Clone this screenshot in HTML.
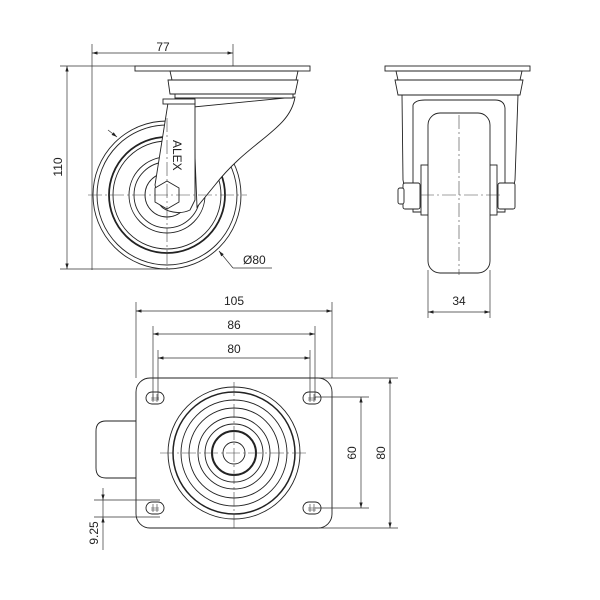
<!DOCTYPE html>
<html><head><style>
html,body{margin:0;padding:0;background:#fff;}
svg{display:block}
text{font-family:"Liberation Sans",sans-serif;font-size:12px;fill:#222}
</style></head><body>
<svg width="600" height="600" viewBox="0 0 600 600" xmlns="http://www.w3.org/2000/svg">
<defs>
<marker id="a" viewBox="0 0 10 6" refX="10" refY="3" markerWidth="8" markerHeight="5" orient="auto-start-reverse"><path d="M0,0L10,3L0,6z" fill="#222"/></marker>
</defs>
<g fill="none" stroke="#333" stroke-width="0.7">
<line x1="92" y1="44" x2="92" y2="270"/>
<line x1="233" y1="44" x2="233" y2="78"/>
<line x1="92" y1="53" x2="233" y2="53" marker-start="url(#a)" marker-end="url(#a)"/>
<line x1="60" y1="66" x2="135" y2="66"/>
<line x1="60" y1="269" x2="170" y2="269"/>
<line x1="67" y1="66" x2="67" y2="269" marker-start="url(#a)" marker-end="url(#a)"/>
<polyline points="233,268 272,268"/>
<line x1="233" y1="268" x2="219" y2="251" marker-end="url(#a)"/>
<line x1="108" y1="130" x2="117" y2="137" marker-end="url(#a)"/>
</g>
<!-- VIEW 1 body -->
<g fill="#fff" stroke="#222" stroke-width="0.9">
<circle cx="167" cy="195" r="74"/>
<circle cx="167" cy="195" r="70"/>
<circle cx="167" cy="195" r="58" stroke-width="1.8"/>
<circle cx="167" cy="195" r="54"/>
<circle cx="167" cy="195" r="38"/>
<circle cx="167" cy="195" r="33"/>
<circle cx="167" cy="195" r="22"/>
<path d="M295,97 C 290,130 250,140 215,185 L197,207 L193,107 Z"/>
<path d="M168,103 L195,103 L195,200 L190,210 C180,215 165,212 160,205 L155,185 Z"/>
<polygon points="167,181 179,188 179,202 167,209 155,202 155,188"/>
<rect x="135" y="66" width="175" height="5"/>
<polygon points="170,71 298,71 296,80 172,80"/>
<polygon points="168,80 298,80 295,94 170,94"/>
<polygon points="175,94 293,94 293,98 175,98"/>
<rect x="163" y="99" width="32" height="5"/>
</g>
<text x="163" y="51" text-anchor="middle">77</text>
<text transform="translate(62,167) rotate(-90)" text-anchor="middle">110</text>
<text x="243" y="264">Ø80</text>
<text transform="translate(173,140) rotate(90)" font-size="11">ALEX</text>
<!-- VIEW 2 -->
<g fill="#fff" stroke="#222" stroke-width="0.9">
<rect x="385" y="66" width="145" height="5"/>
<polygon points="396,71 522,71 520,80 398,80"/>
<polygon points="395,80 523,80 520,95 398,95"/>
<path d="M402,95 L518,95 L515,180 L510,205 L408,205 L403,180 Z"/>
<path d="M413,105 Q415,100 425,100 L495,100 Q504,100 505,108 L505,212 L413,212 Z"/>
<rect x="421" y="165" width="76" height="50"/>
<rect x="428" y="113" width="62" height="160" rx="12"/>
<rect x="403" y="183" width="17" height="26" rx="2"/>
<rect x="398" y="188" width="6" height="16" rx="2"/>
<rect x="498" y="183" width="17" height="26" rx="2"/>
</g>
<g fill="none" stroke="#333" stroke-width="0.7">
<line x1="428" y1="270" x2="428" y2="318"/>
<line x1="490" y1="270" x2="490" y2="318"/>
<line x1="428" y1="312" x2="490" y2="312" marker-start="url(#a)" marker-end="url(#a)"/>
</g>
<text x="459" y="305" text-anchor="middle">34</text>
<!-- VIEW 3 -->
<g fill="#fff" stroke="#222" stroke-width="0.9">
<path d="M136,421 L106,421 Q96,421 96,431 L96,468 Q96,478 106,478 L136,478"/>
<rect x="136" y="378" width="196" height="150" rx="14"/>
<rect x="146" y="392" width="18" height="12" rx="6"/>
<rect x="303" y="392" width="18" height="12" rx="6"/>
<rect x="146" y="502" width="18" height="12" rx="6"/>
<rect x="303" y="502" width="18" height="12" rx="6"/>
<circle cx="234" cy="453" r="66"/>
<circle cx="234" cy="453" r="61" stroke-width="1.5"/>
<circle cx="234" cy="453" r="53"/>
<circle cx="234" cy="453" r="45"/>
<circle cx="234" cy="453" r="36"/>
<circle cx="234" cy="453" r="29"/>
<circle cx="234" cy="453" r="22" stroke-width="2"/>
<circle cx="234" cy="453" r="11"/>
</g>
<g fill="none" stroke="#333" stroke-width="0.6">
<path d="M151,398h8M151,400h8M153,394v8M157,394v8"/>
<path d="M308,398h8M308,400h8M310,394v8M314,394v8"/>
<path d="M151,508h8M151,510h8M153,504v8M157,504v8"/>
<path d="M308,508h8M308,510h8M310,504v8M314,504v8"/>
</g>
<g fill="none" stroke="#333" stroke-width="0.7">
<line x1="136" y1="302" x2="136" y2="378"/>
<line x1="332" y1="302" x2="332" y2="378"/>
<line x1="136" y1="311" x2="332" y2="311" marker-start="url(#a)" marker-end="url(#a)"/>
<line x1="153" y1="326" x2="153" y2="400"/>
<line x1="315" y1="326" x2="315" y2="400"/>
<line x1="153" y1="334" x2="315" y2="334" marker-start="url(#a)" marker-end="url(#a)"/>
<line x1="158" y1="350" x2="158" y2="400"/>
<line x1="310" y1="350" x2="310" y2="400"/>
<line x1="158" y1="358" x2="310" y2="358" marker-start="url(#a)" marker-end="url(#a)"/>
<line x1="318" y1="378" x2="398" y2="378"/>
<line x1="318" y1="528" x2="398" y2="528"/>
<line x1="390" y1="378" x2="390" y2="528" marker-start="url(#a)" marker-end="url(#a)"/>
<line x1="315" y1="397" x2="369" y2="397"/>
<line x1="315" y1="508" x2="369" y2="508"/>
<line x1="361" y1="397" x2="361" y2="508" marker-start="url(#a)" marker-end="url(#a)"/>
<line x1="94" y1="500" x2="160" y2="500"/>
<line x1="94" y1="517" x2="160" y2="517"/>
<line x1="103" y1="488" x2="103" y2="500" marker-end="url(#a)"/>
<line x1="103" y1="550" x2="103" y2="517" marker-end="url(#a)"/>
<line x1="103" y1="500" x2="103" y2="517"/>
</g>
<!-- centerlines on top -->
<g fill="none" stroke="#444" stroke-dasharray="14,3,2,3" stroke-width="0.6">
<line x1="88" y1="195" x2="247" y2="195"/>
<line x1="167" y1="118" x2="167" y2="272"/>
<line x1="459" y1="115" x2="459" y2="275"/>
<line x1="420" y1="195" x2="500" y2="195"/>
<line x1="160" y1="453" x2="308" y2="453"/>
<line x1="234" y1="382" x2="234" y2="528"/>
</g>
<text x="234" y="305" text-anchor="middle">105</text>
<text x="234" y="329" text-anchor="middle">86</text>
<text x="234" y="353" text-anchor="middle">80</text>
<text transform="translate(385,453) rotate(-90)" text-anchor="middle">80</text>
<text transform="translate(356,453) rotate(-90)" text-anchor="middle">60</text>
<text transform="translate(98,533) rotate(-90)" text-anchor="middle">9.25</text>
</svg>
</body></html>
